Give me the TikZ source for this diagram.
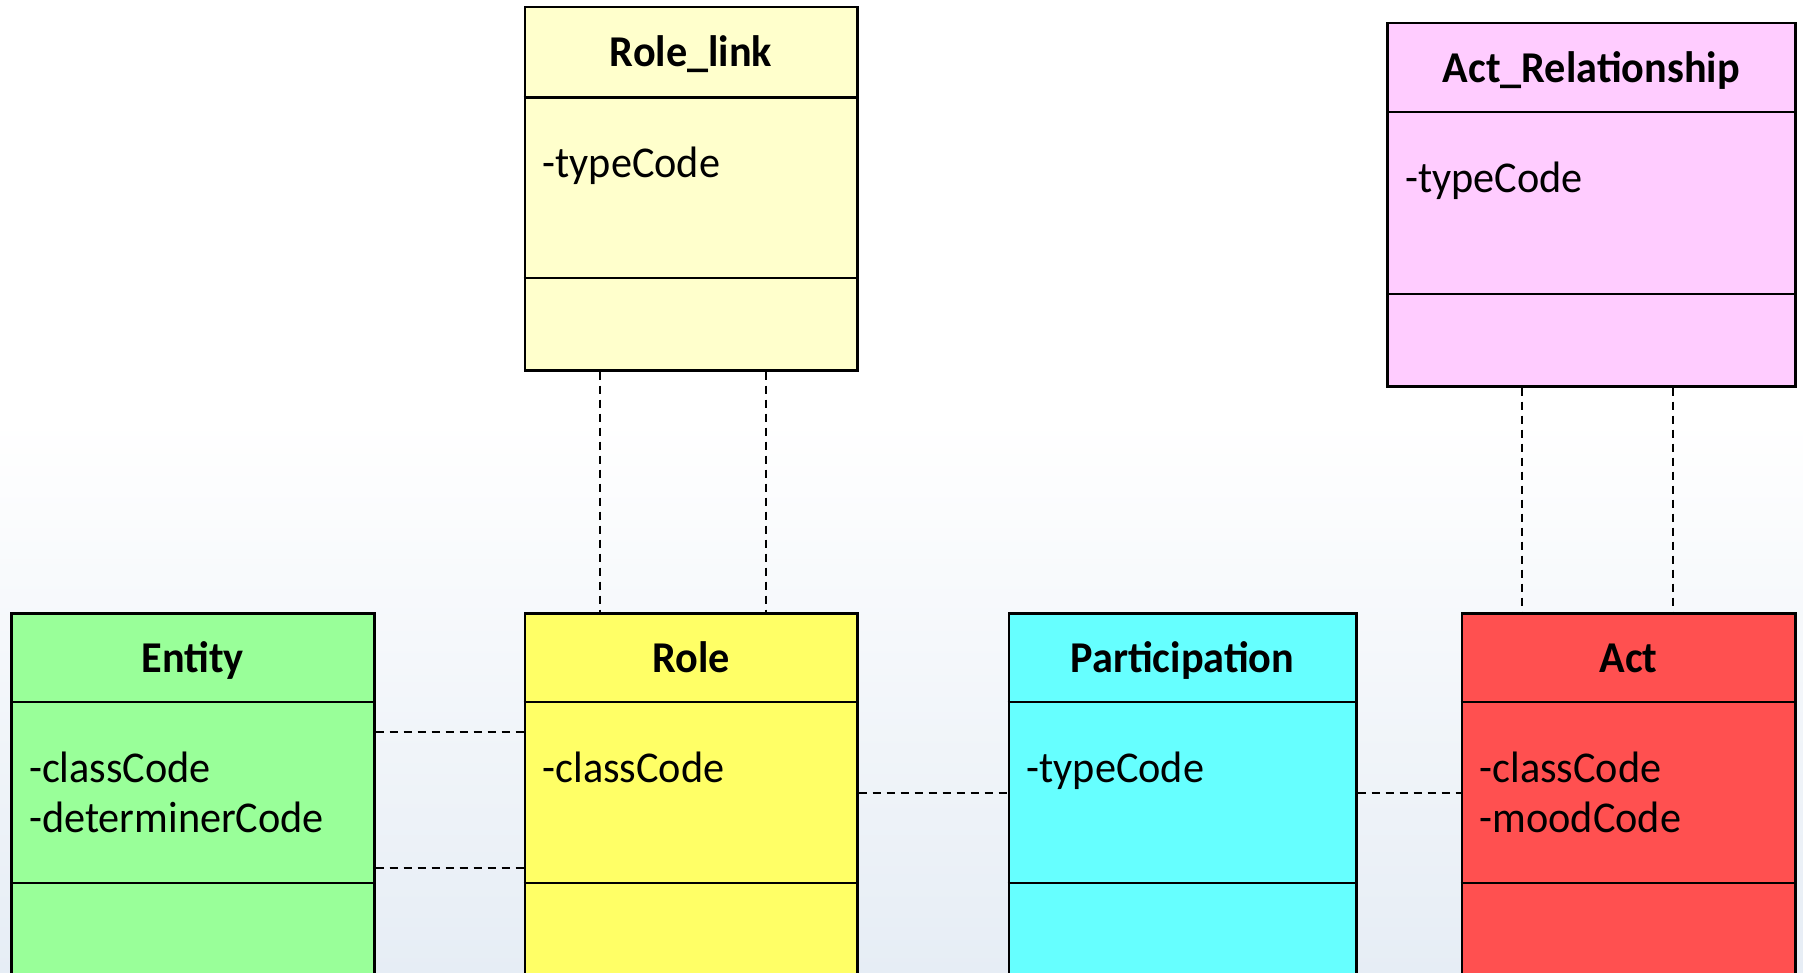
\documentclass[tikz,border=0pt]{standalone}
\usepackage{fontspec}
\setmainfont{Carlito}[FakeStretch=0.96]
\usetikzlibrary{calc}
\definecolor{linkyellow}{HTML}{FFFFCC}
\definecolor{relpink}{HTML}{FFCCFF}
\definecolor{entgreen}{HTML}{99FF99}
\definecolor{roleyellow}{HTML}{FFFF66}
\definecolor{partcyan}{HTML}{66FFFF}
\definecolor{actred}{HTML}{FF5050}
\definecolor{bgblue}{HTML}{E6EDF5}
\tikzset{
  umlbox/.style={draw=black, line width=2.5pt, rectangle, inner sep=0pt, anchor=north west},
  divider/.style={draw=black, line width=2.5pt},
  assoc/.style={draw=black, line width=2pt, dash pattern=on 8pt off 6pt},
  title/.style={font=\bfseries\fontsize{44}{50}\selectfont, anchor=base, inner sep=0pt},
  attr/.style={font=\fontsize{44}{50}\selectfont, anchor=base west, inner sep=0pt},
}
\begin{document}
\begin{tikzpicture}[x=1pt, y=-1pt]
\useasboundingbox (0,0) rectangle (1803,973);
\clip (0,0) rectangle (1803,973);
\fill[white] (0,0) rectangle (1803,973);
\shade[top color=white, bottom color=bgblue] (0,420) rectangle (1803,973);

% top boxes
\node[umlbox, fill=linkyellow, minimum width=332.5pt, minimum height=363pt] (rolelink) at (523.5,6) {};
\node[umlbox, fill=relpink, minimum width=408pt, minimum height=363pt] (actrel) at (1386,22) {};
% bottom boxes
\node[umlbox, fill=entgreen, minimum width=363pt, minimum height=420pt] (entity) at (10,612) {};
\node[umlbox, fill=roleyellow, minimum width=332.5pt, minimum height=420pt] (role) at (523.5,612) {};
\node[umlbox, fill=partcyan, minimum width=347.5pt, minimum height=420pt] (part) at (1007.5,612) {};
\node[umlbox, fill=actred, minimum width=333.5pt, minimum height=420pt] (act) at (1460.5,612) {};

% dividers
\draw[divider] (rolelink.west |- 0,97.5) -- (rolelink.east |- 0,97.5);
\draw[divider] (rolelink.west |- 0,278) -- (rolelink.east |- 0,278);
\draw[divider] (actrel.west |- 0,112) -- (actrel.east |- 0,112);
\draw[divider] (actrel.west |- 0,294) -- (actrel.east |- 0,294);
\foreach \b in {entity,role,part,act}{
  \draw[divider] (\b.west |- 0,702) -- (\b.east |- 0,702);
  \draw[divider] (\b.west |- 0,883) -- (\b.east |- 0,883);
}

% titles
\node[title] (t1) at (rolelink.center |- 0,66.5) {Role\_link};
\node[title] (t2) at (actrel.center |- 0,82.5) {Act\_Relationship};
\node[title] (t3) at (entity.center |- 0,672) {Entity};
\node[title] (t4) at (role.center |- 0,672) {Role};
\node[title] (t5) at (part.center |- 0,672) {Participation};
\node[title] (t6) at (act.center |- 0,672) {Act};

% attributes
\node[attr] (a1) at (542.5,177.5) {-typeCode};
\node[attr] (a2) at (1405,193) {-typeCode};
\node[attr] (a3) at (29,782.5) {-classCode};
\node[attr] (a4) at (29,832.5) {-determinerCode};
\node[attr] (a5) at (542.5,782.5) {-classCode};
\node[attr] (a6) at (1026.5,782.5) {-typeCode};
\node[attr] (a7) at (1479.5,782.5) {-classCode};
\node[attr] (a8) at (1479.5,832.5) {-moodCode};

% connectors
\draw[assoc] (600,0 |- rolelink.south) -- (600,0 |- role.north);
\draw[assoc] (766,0 |- rolelink.south) -- (766,0 |- role.north);
\draw[assoc] (1522,0 |- actrel.south) -- (1522,0 |- act.north);
\draw[assoc] (1673,0 |- actrel.south) -- (1673,0 |- act.north);
\draw[assoc] (entity.east |- 0,732) -- (role.west |- 0,732);
\draw[assoc] (entity.east |- 0,868) -- (role.west |- 0,868);
\draw[assoc] (role.east |- 0,793) -- (part.west |- 0,793);
\draw[assoc] (part.east |- 0,793) -- (act.west |- 0,793);
\end{tikzpicture}
\end{document}
